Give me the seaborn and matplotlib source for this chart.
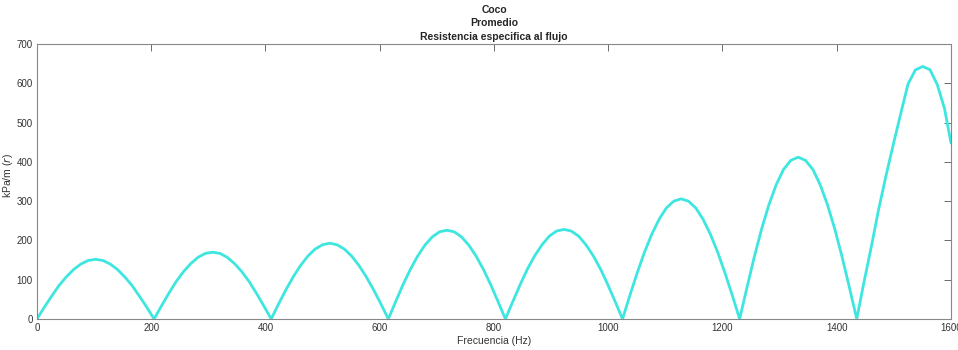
import numpy as np
import pandas as pd
import matplotlib
matplotlib.use("Agg")
import matplotlib.pyplot as plt
import seaborn as sns

# frequency samples (Hz), regular step, last point at axis end
freq = list(np.arange(125) * 205 / 16) + [1600]

# specific flow resistance, one hump at a time
arch1 = [0, 30, 58, 85, 107, 126, 140, 149, 152, 149, 140, 126, 107, 85, 58, 30, 0]
arch2 = [33, 65, 95, 120, 141, 157, 167, 170, 167, 157, 141, 120, 95, 65, 33, 0]
arch3 = [38, 74, 107, 136, 160, 178, 189, 193, 189, 178, 160, 136, 107, 74, 38, 0]
arch4 = [44, 87, 126, 160, 188, 209, 222, 226, 222, 209, 188, 160, 126, 87, 44, 0]
arch5 = [44, 87, 127, 161, 189, 211, 224, 228, 224, 211, 189, 161, 127, 87, 44, 0]
arch6 = [60, 117, 170, 216, 254, 283, 300, 306, 300, 283, 254, 216, 170, 117, 60, 0]
arch7 = [80, 158, 229, 291, 342, 381, 404, 412, 404, 381, 342, 291, 229, 158, 80, 0]
arch8 = [95, 185, 280, 365, 445, 522, 598, 634, 643, 635, 597, 535, 448]

resist = arch1 + arch2 + arch3 + arch4 + arch5 + arch6 + arch7 + arch8

title_lines = ["Coco", "Promedio", "Resistencia especifica al flujo"]
xticks = [0, 200, 400, 600, 800, 1000, 1200, 1400, 1600]
yticks = [0, 100, 200, 300, 400, 500, 600, 700]

df = pd.DataFrame({"f": freq, "r": resist})

sns.set_style("white")
plt.rcParams["font.family"] = ["Liberation Sans Narrow", "Liberation Sans", "DejaVu Sans"]

fig = plt.figure(figsize=(9.58, 3.5), dpi=100)
ax = fig.add_axes([0.0386, 0.0886, 0.9541, 0.7854])

sns.lineplot(data=df, x="f", y="r", color="#3ee6e0", linewidth=2, ax=ax)

ax.set_xlim(0, 1600)
ax.set_ylim(0, 700)
ax.set_xticks(xticks)
ax.set_yticks(yticks)
ax.tick_params(direction="in", length=5, width=0.6, color="#555555",
               labelsize=7, labelcolor="#333333", top=True, right=True,
               labeltop=False, labelright=False, pad=3)
for s in ax.spines.values():
    s.set_color("#888888")
    s.set_linewidth(0.8)

ax.set_xlabel("Frecuencia (Hz)", fontsize=7.5, color="#333333", labelpad=2)
ax.set_ylabel("kPa/m ($r$)", fontsize=7.5, color="#333333")
ax.yaxis.set_label_coords(-0.024, 0.52)
ax.set_title("\n".join(title_lines), fontsize=7.5, fontweight="bold",
             linespacing=1.45, pad=3)

fig.savefig("out.png", dpi=100)
